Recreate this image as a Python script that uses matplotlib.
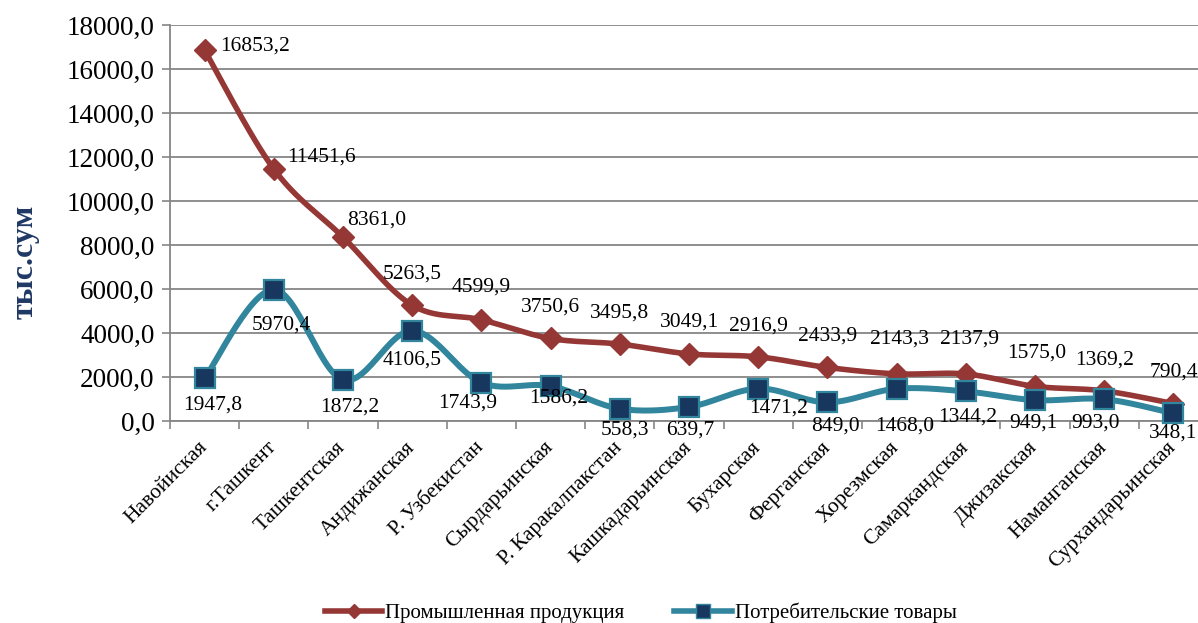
import matplotlib.pyplot as plt
import numpy as np

plt.rcParams['font.family'] = ['Liberation Serif', 'DejaVu Serif']

regions = ["Навойиская", "г.Ташкент", "Ташкентская", "Андижанская", "Р. Узбекистан",
           "Сырдарьинская", "Р. Каракалпакстан", "Кашкадарьинская", "Бухарская",
           "Ферганская", "Хорезмская", "Самаркандская", "Джизакская", "Наманганская",
           "Сурхандарьинская"]
industry = [16853.2, 11451.6, 8361.0, 5263.5, 4599.9, 3750.6, 3495.8, 3049.1,
            2916.9, 2433.9, 2143.3, 2137.9, 1575.0, 1369.2, 790.4]
consumer = [1947.8, 5970.4, 1872.2, 4106.5, 1743.9, 1586.2, 558.3, 639.7,
            1471.2, 849.0, 1468.0, 1344.2, 949.1, 993.0, 348.1]

# смещения подписей (в пикселях)
ind_off = [(50, 4), (48, 12), (34, 17), (0, 31), (0, 33), (0, 31), (0, 31), (0, 32),
           (0, 31), (0, 31), (3, 35), (4, 35), (2, 33), (0, 31), (0, 32)]
con_off = [(8, -27), (8, -35), (7, -27), (0, -29), (-14, -20), (8, -12), (5, -21), (1, -23),
           (20, -19), (8, -24), (8, -37), (2, -26), (-2, -23), (-9, -24), (0, -20)]

red = '#953735'
teal = '#31859C'
navy = '#17375E'


def smooth(x, y, sx, sy, n=30):
    # сглаживание как в Excel (Catmull-Rom в экранных единицах)
    px = np.asarray(x, float) * sx
    py = np.asarray(y, float) * sy
    P = np.column_stack([px, py])
    P = np.vstack([P[0], P, P[-1]])
    out = []
    t = np.linspace(0, 1, n)[:, None]
    for i in range(1, len(P) - 2):
        p0, p1, p2, p3 = P[i - 1], P[i], P[i + 1], P[i + 2]
        c1 = p1 + (p2 - p0) / 6
        c2 = p2 - (p3 - p1) / 6
        seg = (1 - t) ** 3 * p1 + 3 * (1 - t) ** 2 * t * c1 + 3 * (1 - t) * t ** 2 * c2 + t ** 3 * p2
        out.append(seg)
    out = np.vstack(out)
    return out[:, 0] / sx, out[:, 1] / sy


fig = plt.figure(figsize=(11.98, 6.23), dpi=100)
ax = fig.add_axes([170 / 1198, 1 - 421 / 623, 1038 / 1198, 396 / 623])

x = np.arange(len(regions))
sx, sy = 69.2, 396.0 / 18000

xs, ys = smooth(x, industry, sx, sy)
ax.plot(xs, ys, color=red, lw=4, zorder=3, clip_on=False)
ax.plot(x, industry, ls='none', marker='D', ms=11, color=red, zorder=4, clip_on=False)
xs, ys = smooth(x, consumer, sx, sy)
ax.plot(xs, ys, color=teal, lw=4.3, zorder=3, clip_on=False)
ax.plot(x, consumer, ls='none', marker='s', ms=15, mfc=navy, mec=teal, mew=1.6, zorder=4,
        clip_on=False)

# для легенды
ax.plot([], [], color=red, lw=4, marker='D', ms=7, label='Промышленная продукция')
ax.plot([], [], color=teal, lw=4, marker='s', ms=10, mfc=navy, mec=teal,
        label='Потребительские товары')

fmt = lambda v: f"{v:.1f}".replace('.', ',')
for i in range(len(regions)):
    ax.annotate(fmt(industry[i]), (x[i], industry[i]), xytext=ind_off[i],
                textcoords='offset pixels', ha='center', va='center', fontsize=15.5, zorder=5)
    ax.annotate(fmt(consumer[i]), (x[i], consumer[i]), xytext=con_off[i],
                textcoords='offset pixels', ha='center', va='center', fontsize=15.5, zorder=5)

ax.set_xlim(-0.5, len(regions) - 0.5)
ax.set_ylim(0, 18000)
ax.set_yticks(np.arange(0, 18001, 2000))
ax.set_yticklabels([fmt(v) for v in np.arange(0, 18001, 2000)], fontsize=19.5)
ax.set_xticks(x)
ax.set_xticklabels(regions, rotation=45, ha='right', va='center', rotation_mode='anchor',
                   fontsize=15.5)
ax.set_xticks(np.arange(-0.5, len(regions), 1), minor=True)
ax.tick_params(axis='x', which='major', length=0, pad=17)
ax.tick_params(axis='x', which='minor', length=6, color='#868686', width=1.2)
ax.tick_params(axis='y', length=6, color='#868686', width=1.2, pad=5)
ax.grid(axis='y', color='#868686', lw=1.3)
ax.set_axisbelow(True)
for s in ['top', 'right']:
    ax.spines[s].set_visible(False)
ax.spines['left'].set_color('#868686')
ax.spines['bottom'].set_color('#868686')
ax.spines['left'].set_linewidth(1.3)
ax.spines['bottom'].set_linewidth(1.3)

ax.set_ylabel('тыс.сум', fontsize=23, fontweight='bold', color='#1F3864', va='center')
ax.yaxis.set_label_coords(-145 / 1038, (421 - 262) / 396)

fig.legend(loc='center left', bbox_to_anchor=(325 / 1198, 1 - 613 / 623), ncol=2,
           frameon=False, fontsize=15, handlelength=2.74, handletextpad=0.15,
           columnspacing=2.4, borderpad=0, borderaxespad=0)

fig.savefig('out.png', dpi=100)
